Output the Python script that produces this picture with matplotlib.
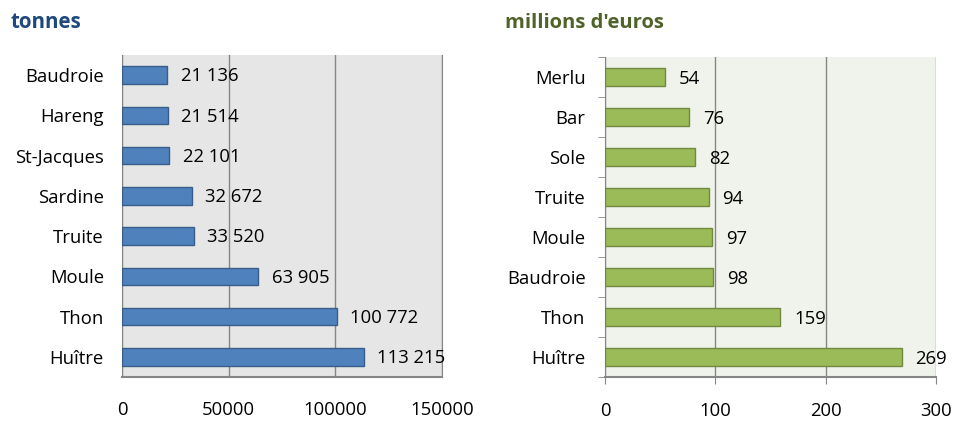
import matplotlib.pyplot as plt
from matplotlib.ticker import FixedLocator

plt.rcParams['font.family'] = ['Open Sans', 'DejaVu Sans']

# left panel: tonnes
ton_species = ["Baudroie", "Hareng", "St-Jacques", "Sardine", "Truite", "Moule", "Thon", "Huître"]
ton_values = [21136, 21514, 22101, 32672, 33520, 63905, 100772, 113215]

# right panel: millions d'euros
eur_species = ["Merlu", "Bar", "Sole", "Truite", "Moule", "Baudroie", "Thon", "Huître"]
eur_values = [54, 76, 82, 94, 97, 98, 159, 269]

W, H = 955, 421
FS = 13.3
fig = plt.figure(figsize=(W / 100, H / 100), dpi=100)

def px_axes(x0, y0, x1, y1):
    return fig.add_axes([x0 / W, 1 - y1 / H, (x1 - x0) / W, (y1 - y0) / H])

def fmt(v):
    return f"{v:,}".replace(",", " ")

# ---- left
ax1 = px_axes(122, 55, 442, 377)
ax1.set_facecolor("#E6E6E6")
y = range(len(ton_species))
ax1.barh(y, ton_values, height=0.43, color="#4F81BD", edgecolor="#385D8A", linewidth=1, zorder=3)
for i, v in enumerate(ton_values):
    ax1.text(v + 6300, i + 0.03, fmt(v), va="center", ha="left", fontsize=FS, zorder=4)
ax1.set_xlim(0, 150000)
ax1.set_ylim(len(ton_species) - 0.5, -0.5)
ax1.set_xticks([0, 50000, 100000, 150000])
ax1.set_xticklabels(["0", "50000", "100000", "150000"])
ax1.set_yticks(list(y))
ax1.set_yticklabels(ton_species)
ax1.tick_params(axis="both", length=0, labelsize=FS)
ax1.tick_params(axis="x", pad=17)
ax1.tick_params(axis="y", pad=13)
ax1.grid(axis="x", color="#868686", linewidth=1, zorder=1)
ax1.spines["top"].set_visible(False)
ax1.spines["right"].set_color("#868686")
ax1.spines["left"].set_color("#868686")
ax1.spines["bottom"].set_color("#868686")
ax1.spines["bottom"].set_linewidth(1.5)
fig.text(10 / W, 1 - 23 / H, "tonnes", fontsize=14.8, fontweight="bold", color="#1F497D", va="center")

# ---- right
ax2 = px_axes(605, 57, 936, 377)
ax2.set_facecolor("#F0F3EB")
y2 = range(len(eur_species))
ax2.barh(y2, eur_values, height=0.43, color="#9BBB59", edgecolor="#71893F", linewidth=1, zorder=3)
for i, v in enumerate(eur_values):
    ax2.text(v + 12.5, i + 0.05, fmt(v), va="center", ha="left", fontsize=FS, zorder=4)
ax2.set_xlim(0, 300)
ax2.set_ylim(len(eur_species) - 0.5, -0.5)
ax2.set_xticks([0, 100, 200, 300])
ax2.set_yticks(list(y2))
ax2.set_yticklabels(eur_species)
ax2.yaxis.set_minor_locator(FixedLocator([i - 0.5 for i in range(len(eur_species) + 1)]))
ax2.tick_params(axis="y", which="major", length=0, pad=14, labelsize=FS)
ax2.tick_params(axis="y", which="minor", length=5, color="#868686", direction="out")
ax2.tick_params(axis="x", length=5, color="#868686", direction="out", pad=13, labelsize=FS)
ax2.grid(axis="x", color="#868686", linewidth=1, zorder=1)
ax2.spines["top"].set_visible(False)
ax2.spines["right"].set_visible(False)
ax2.spines["left"].set_color("#868686")
ax2.spines["bottom"].set_color("#868686")
ax2.spines["bottom"].set_linewidth(1.5)
fig.text(505 / W, 1 - 23 / H, "millions d'euros", fontsize=14.5, fontweight="bold", color="#4F6228", va="center")

fig.savefig("out.png", dpi=100)
